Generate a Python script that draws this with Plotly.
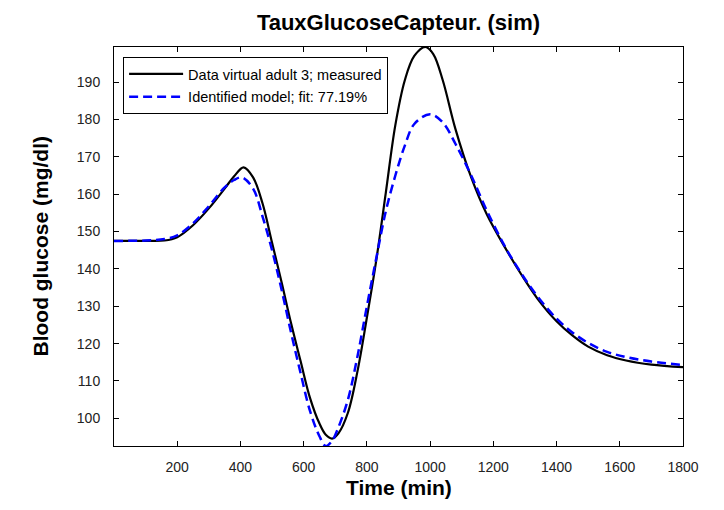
import plotly.graph_objects as go

# Measured data (virtual adult 3)
t_meas = [0, 100, 160, 200, 250, 300, 350, 380, 410, 440, 470, 500, 530, 560, 590,
          620, 650, 670, 690, 710, 740, 770, 800, 830, 860, 890, 920, 950, 985,
          1010, 1040, 1080, 1130, 1180, 1240, 1290, 1340, 1400, 1450, 1500, 1560,
          1620, 1700, 1800]
g_meas = [147.5, 147.5, 147.6, 148.5, 151.7, 156.2, 161.5, 164.8, 167.2, 164.5, 157.5,
          147.0, 136.5, 125.5, 115.4, 105.5, 98.6, 95.6, 94.6, 96.0, 101.5, 112.5,
          127.0, 142.5, 160.5, 178.5, 190.5, 197.0, 199.4, 197.5, 190.5, 177.5,
          164.5, 154.5, 145.3, 138.3, 132.0, 126.0, 122.2, 119.2, 116.9, 115.5,
          114.4, 113.7]

# Identified model
t_model = [0, 100, 160, 200, 250, 300, 350, 380, 405, 440, 470, 500, 530, 560, 590,
           620, 650, 670, 690, 710, 740, 770, 800, 830, 860, 890, 920, 950, 1000,
           1040, 1080, 1130, 1180, 1240, 1290, 1340, 1400, 1450, 1500, 1560, 1620,
           1700, 1800]
g_model = [147.5, 147.6, 148.0, 149.0, 152.2, 156.8, 161.8, 163.8, 164.5, 161.5, 154.0,
           145.0, 134.5, 123.0, 112.2, 102.0, 95.2, 92.6, 94.0, 97.6, 105.0, 116.5,
           130.0, 143.0, 155.5, 165.0, 173.0, 178.8, 181.4, 179.2, 173.5, 165.0,
           155.5, 145.5, 138.6, 132.6, 126.7, 123.0, 120.2, 117.8, 116.4, 115.2,
           114.3]

x_ticks = [200, 400, 600, 800, 1000, 1200, 1400, 1600, 1800]
y_ticks = [100, 110, 120, 130, 140, 150, 160, 170, 180, 190]

name_meas = "Data virtual adult 3; measured"
name_model = "Identified model; fit: 77.19%"

fig = go.Figure()
fig.add_trace(go.Scatter(x=t_meas, y=g_meas, mode="lines", name=name_meas,
                         legendgroup="a",
                         line=dict(color="black", width=2.2, shape="spline", smoothing=1.0)))
fig.add_trace(go.Scatter(x=t_model, y=g_model, mode="lines", name=name_model,
                         legendgroup="b",
                         line=dict(color="#0000ff", width=2.5, dash="9px,5px",
                                   shape="spline", smoothing=1.0)))

font_family = "Liberation Sans, Arial, Helvetica, sans-serif"
narrow_family = "Liberation Sans Narrow, Arial Narrow, Liberation Sans, Arial, sans-serif"
axis_common = dict(showline=True, linecolor="black", linewidth=1, mirror="ticks",
                   ticks="inside", ticklen=5, tickcolor="black", showgrid=False,
                   zeroline=False,
                   tickfont=dict(size=14, color="#222", family=narrow_family))

W, H = 716, 502
fig.update_layout(
    width=W, height=H,
    margin=dict(l=106, r=41, t=39, b=64),
    paper_bgcolor="white", plot_bgcolor="white",
    font=dict(family=font_family, color="black"),
    title=dict(text="<b>TauxGlucoseCapteur. (sim)</b>", x=0.5, xref="paper",
               y=1 - 14 / H, yref="container", xanchor="center", yanchor="middle",
               font=dict(size=22, color="black", family=narrow_family)),
    xaxis=dict(range=[0, 1800], tickvals=x_ticks, ticklabelstandoff=8, **axis_common),
    yaxis=dict(range=[92.6, 199.4], tickvals=y_ticks, ticklabelstandoff=10, **axis_common),
    legend=dict(x=0.016, y=0.975, xanchor="left", yanchor="top",
                bgcolor="white", bordercolor="black", borderwidth=1,
                font=dict(size=14.5, color="black"), tracegroupgap=1, itemwidth=54),
    showlegend=True,
    annotations=[
        dict(text="<b>Time (min)</b>", xref="paper", yref="paper", x=0.5, y=-0.105,
             xanchor="center", yanchor="middle", showarrow=False,
             font=dict(size=21, color="black")),
        dict(text="<b>Blood glucose (mg/dl)</b>", xref="paper", yref="paper",
             x=-0.130, y=0.5, xanchor="center", yanchor="middle", textangle=-90,
             showarrow=False, font=dict(size=21, color="black")),
    ],
)

fig.write_html("out.html")
